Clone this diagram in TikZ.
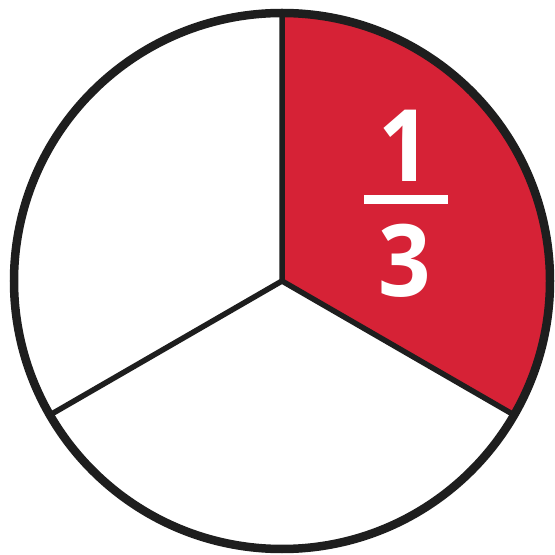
\documentclass[tikz,border=0pt]{standalone}
\usepackage{fontspec}
\setmainfont{Open Sans}
\usetikzlibrary{calc}
\definecolor{piered}{HTML}{D62236}
\definecolor{ink}{HTML}{1E1E1E}
\begin{document}
\begin{tikzpicture}[x=1pt,y=1pt,
  spoke/.style={draw=ink,line width=5.5pt,line cap=round,line join=round},
  rim/.style={draw=ink,line width=8.5pt},
  digit/.style={text=white,font=\fontsize{100}{100}\selectfont\bfseries,inner sep=0pt,anchor=base,xscale=0.92,transform shape}]
\useasboundingbox (0,0) rectangle (555,555);
\coordinate (c) at (282,274);
\def\R{268}
\coordinate (t) at ($(c)+(90:\R)$);
\coordinate (br) at ($(c)+(-30:\R)$);
\coordinate (bl) at ($(c)+(210:\R)$);
% red sector
\fill[piered] (c) -- (t) arc[start angle=90,end angle=-30,radius=\R] -- cycle;
% spokes
\draw[spoke] (t) -- (c) -- (br);
\draw[spoke] (c) -- (bl);
% rim
\draw[rim] (c) circle[radius=\R];
% fraction
\node[digit] (num) at (405,373) {1};
\node[digit] (den) at (405,258) {3};
\fill[white] (364,351) rectangle (448,360);
\end{tikzpicture}
\end{document}
